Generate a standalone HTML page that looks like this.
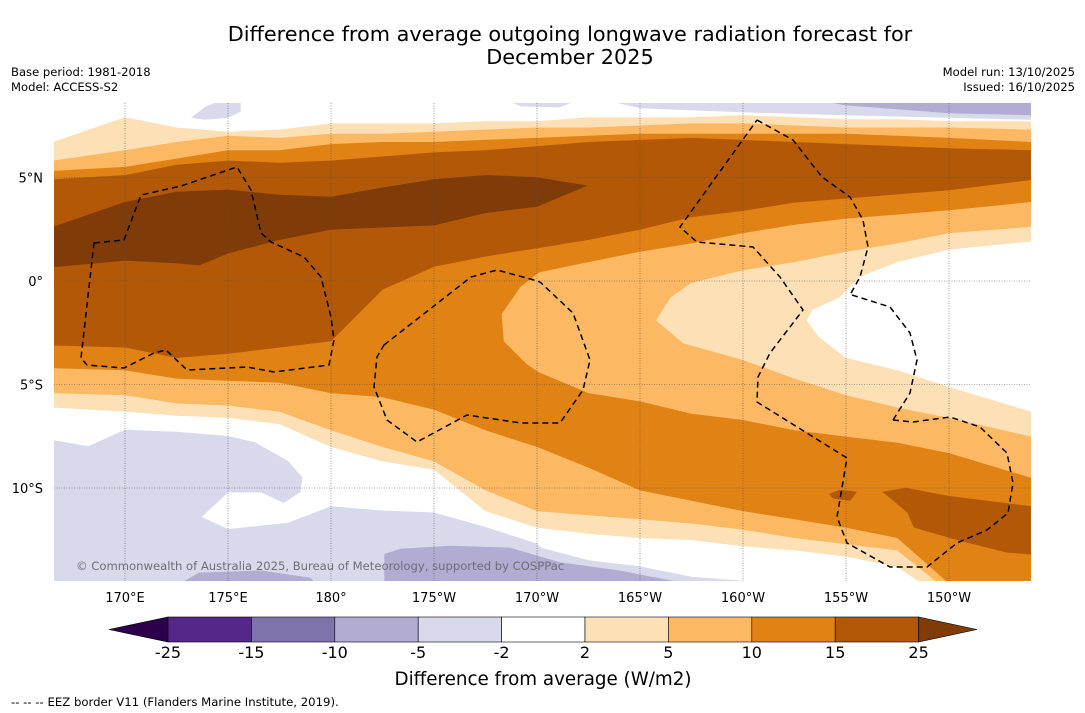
<!DOCTYPE html>
<html><head><meta charset="utf-8"><style>
html,body{margin:0;padding:0;background:#fff;}
svg{display:block;font-family:"DejaVu Sans","Liberation Sans",sans-serif;}
</style></head><body>
<svg id="chart" width="1085" height="713" viewBox="0 0 1085 713" xmlns="http://www.w3.org/2000/svg">
<rect x="0" y="0" width="1085" height="713" fill="#fff"/>
<text x="570" y="41" text-anchor="middle" font-size="20.8" fill="#000">Difference from average outgoing longwave radiation forecast for</text>
<text x="570" y="64" text-anchor="middle" font-size="20.8" fill="#000">December 2025</text>
<text x="11" y="76" font-size="11.6" fill="#000">Base period: 1981-2018</text>
<text x="11" y="91" font-size="11.6" fill="#000">Model: ACCESS-S2</text>
<text x="1075" y="76" font-size="11.6" text-anchor="end" fill="#000">Model run: 13/10/2025</text>
<text x="1075" y="91" font-size="11.6" text-anchor="end" fill="#000">Issued: 16/10/2025</text>
<defs><clipPath id="mapclip"><rect x="54" y="103" width="977" height="478"/></clipPath></defs>
<g id="map" clip-path="url(#mapclip)"></g>
<g id="grid"></g>
<g id="eez" fill="none" stroke="#000" stroke-width="1.5" stroke-dasharray="6,4">
<path d="M94,243 L124,240 L141,195 L181,186 L237,167 L251,190 L261,233 L271,242 L304,257 L321,277 L331,317 L334,340 L329,365 L274,372 L247,367 L187,370 L166,350 L154,353 L124,368 L87,365 L81,358 Z"/>
<path d="M384,345 L471,277 L497,270 L534,280 L540,282 L573,313 L590,360 L583,390 L560,423 L521,423 L467,415 L417,442 L387,420 L374,387 L377,357 Z"/>
<path d="M757,120 L793,140 L822,177 L850,197 L863,220 L868,247 L860,277 L850,295"/>
<path d="M852,295 L890,307 L910,333 L917,360 L910,393 L893,420"/>
<path d="M893,420 L913,422 L950,417 L980,427 L1007,453 L1013,483 L1008,513 L987,530 L957,543 L927,567 L890,567 L847,543 L837,517 L847,458 L757,402 L758,377 L770,353 L803,310 L780,277 L753,247 L697,242 L680,227 L757,120"/>
</g>
<text x="76" y="570" font-size="11.6" fill="#6e6e78">© Commonwealth of Australia 2025, Bureau of Meteorology, supported by COSPPac</text>
<g id="axes"></g>
<g id="cbar"></g>
<text x="543" y="685" text-anchor="middle" font-size="18.3" fill="#000">Difference from average (W/m2)</text>
<text x="11" y="706" font-size="11.7" fill="#000">--  --  -- EEZ border V11 (Flanders Marine Institute, 2019).</text>
</svg>
<script>
// ---- data ----
const lonGrid = [166.5,170,172.5,175,177.5,180,182.5,185,187.5,190,192.5,195,197.5,200,202.5,205,207.5,210,214];
const north2 = [6.7,7.9,7.4,7.2,7.3,7.6,7.6,7.6,7.7,7.7,7.9,7.9,7.9,8.0,7.9,7.8,7.8,7.7,7.7];
const south2 = [-6.1,-6.3,-6.5,-6.6,-6.9,-8.0,-8.7,-9.1,-11.1,-11.9,-12.2,-12.4,-12.5,-12.8,-13.0,-13.3,-13.8,-15.5,-16.5];
const north5 = [5.8,6.3,6.7,7.0,6.9,7.1,7.1,7.2,7.3,7.4,7.4,7.5,7.6,7.6,7.5,7.4,7.4,7.4,7.3];
const south5 = [-5.4,-5.5,-5.9,-6.0,-6.3,-7.2,-8.0,-8.7,-10.1,-11.1,-11.3,-11.5,-11.7,-12.0,-12.4,-12.7,-13.0,-15.0,-16.2];
const north10 = [5.3,5.5,5.9,6.3,6.3,6.6,6.7,6.7,6.8,6.9,7.0,7.1,7.1,7.1,7.1,7.1,7.0,6.9,6.7];
const south10 = [-4.2,-4.3,-4.7,-4.8,-4.9,-5.4,-5.6,-6.2,-7.2,-8.0,-9.0,-10.1,-10.6,-11.1,-11.5,-11.9,-12.4,-14.6,-16.0];
const north15 = [4.9,5.1,5.6,5.8,5.7,5.8,6.0,6.2,6.3,6.5,6.7,6.8,6.9,6.8,6.7,6.6,6.5,6.4,6.3];
const south15 = [-3.1,-3.2,-3.7,-3.5,-3.2,-2.9,-0.4,0.7,1.2,1.6,2.0,2.5,3.1,3.4,3.8,4.0,4.2,4.4,4.9];
const hole10Lon = [214,210,207.5,205,202.5,200,197.5,195,192.5,190.1,189.2,188.3,188.4,189.5,190.1,192.5,195,197.5,200,202.5,205,207.5,210,214];
const hole10Lat = [3.8,3.4,3.2,3.0,2.7,2.3,1.8,1.4,0.9,0.4,-0.3,-1.6,-2.9,-4.0,-4.4,-5.4,-5.8,-6.4,-6.7,-7.2,-7.5,-7.8,-8.3,-9.5];
const paleTongueLon = [214,210,207.5,205,202.5,200,197.5,196.5,195.8,197.1,200,202.5,205,207.5,210,214];
const paleTongueLat = [2.6,2.3,1.8,1.4,0.9,0.5,-0.1,-0.8,-1.9,-3.0,-3.8,-4.7,-5.5,-6.1,-6.6,-7.5];
const whiteTongueLon = [214,210,207.5,205.7,204.7,203.4,203.1,203.7,205,207.5,210,214];
const whiteTongueLat = [1.9,1.5,0.9,0.2,-0.8,-1.4,-1.9,-2.7,-3.7,-4.3,-5.1,-6.3];
const core25Lon = [166.5,170,172.5,175,177.5,180,182.5,185,187.5,190,192.4,190,187.5,185,182.5,180,177.5,175,173.6,172.5,170,166.5];
const core25Lat = [2.6,3.8,4.3,4.4,4.15,4.06,4.5,4.9,5.1,5.0,4.6,3.6,3.3,2.7,2.6,2.5,2.0,1.35,0.77,0.87,1.0,0.68];
const blob15aLon = [206.8,207.9,210,214,214,212.8,210.4,208.3,208.0,207.3];
const blob15aLat = [-10.2,-10.0,-10.4,-10.9,-13.2,-13.1,-12.5,-11.9,-11.2,-10.6];
const blob15bLon = [204.2,204.7,205.5,205.2,204.4];
const blob15bLat = [-10.3,-10.1,-10.2,-10.6,-10.5];
const lavSWLon = [166.5,168.2,170,172.5,175,176.3,177.9,178.6,178.5,177.7,176.6,175,173.7,175,177.9,180,182.5,185,187.5,190,190.2,192.5,195,197.5,200,200.8,202.8,205,205,166.5];
const lavSWLat = [-7.7,-8.0,-7.2,-7.3,-7.5,-7.8,-8.7,-9.5,-10.2,-10.7,-10.2,-10.2,-11.4,-12.0,-11.7,-10.9,-11.1,-11.2,-11.9,-12.7,-12.9,-13.5,-13.8,-14.3,-14.5,-14.9,-14.8,-15.2,-15.5,-15.5];
const lavBotLon = [182.6,182.6,183.4,185.8,188.7,191.1,194.0,196.6,197.0];
const lavBotLat = [-15.0,-13.2,-12.95,-12.8,-12.9,-13.6,-14.0,-14.5,-15.0];
const lavBotLLon = [172.2,173.6,176.6,179.0,179.5];
const lavBotLLat = [-14.9,-14.1,-14.0,-14.35,-14.9];
const lavTopLon = [173.25,173.9,174.6,175.6,175.6,175.0,173.9];
const lavTopLat = [7.9,8.4,8.7,8.6,8.2,7.9,7.8];
const lavTopMLon = [188.45,189.2,191.1,192.1];
const lavTopMLat = [8.8,8.45,8.4,8.8];
const lavTRLon = [193.1,195,200,205,210,214,214];
const lavTRLat = [8.8,8.36,8.16,8.02,7.9,7.8,8.8];
const lavTRDarkLon = [203.25,205,210,214,214];
const lavTRDarkLat = [8.8,8.5,8.12,8.02,8.8];
const lonTicks = [170,175,180,185,190,195,200,205,210];
const lonTickLabels = ["170°E","175°E","180°","175°W","170°W","165°W","160°W","155°W","150°W"];
const latTicks = [5,0,-5,-10];
const latTickLabels = ["5°N","0°","5°S","10°S"];
const cbarLevels = ["-25","-15","-10","-5","-2","2","5","10","15","25"];
const cbarColors = ["#542788","#8073ac","#b2abd2","#d8daeb","#ffffff","#fee0b6","#fdb863","#e08214","#b35806"];
const cbarUnder = "#2d004b";
const cbarOver = "#7f3b08";

// ---- scales ----
const NS = "http://www.w3.org/2000/svg";
function xOf(lon){ return 331 + (lon - 180) * 20.6; }
function yOf(lat){ return 281 - lat * 20.7; }
function ptsStr(lons, lats){ return lons.map((l,i)=> xOf(l).toFixed(1)+","+yOf(lats[i]).toFixed(1)).join(" "); }
const map = document.getElementById("map");
function poly(lons, lats, color, name){
  const p = document.createElementNS(NS, "polygon");
  p.setAttribute("points", ptsStr(lons, lats));
  p.setAttribute("fill", color);
  p.setAttribute("stroke", color);
  p.setAttribute("stroke-width", "0.6");
  
  
  map.appendChild(p);
}
function band(north, south, color, name){
  const lons = lonGrid.concat(lonGrid.slice().reverse());
  const lats = north.concat(south.slice().reverse());
  poly(lons, lats, color, name);
}
band(north2, south2, "#fee0b6", "contour-band-2-5");
poly(lavSWLon, lavSWLat, "#d8daeb", "contour-region-minus5-minus2-south");
poly(lavTopLon, lavTopLat, "#d8daeb", "contour-region-minus5-minus2-north-west");
poly(lavTopMLon, lavTopMLat, "#d8daeb", "contour-region-minus5-minus2-north-mid");
poly(lavTRLon, lavTRLat, "#d8daeb", "contour-region-minus5-minus2-north-east");
poly(lavTRDarkLon, lavTRDarkLat, "#b2abd2", "contour-region-minus10-minus5-north-east");
poly(lavBotLon, lavBotLat, "#b2abd2", "contour-region-minus10-minus5-south");
poly(lavBotLLon, lavBotLLat, "#b2abd2", "contour-region-minus10-minus5-south-west");
band(north5, south5, "#fdb863", "contour-band-5-10");
band(north10, south10, "#e08214", "contour-band-10-15");
poly(hole10Lon, hole10Lat, "#fdb863", "contour-region-5-10-east");
poly(paleTongueLon, paleTongueLat, "#fee0b6", "contour-tongue-2-5");
poly(whiteTongueLon, whiteTongueLat, "#ffffff", "contour-tongue-neutral");
band(north15, south15, "#b35806", "contour-band-15-25");
poly(core25Lon, core25Lat, "#7f3b08", "contour-core-above-25");
poly(blob15aLon, blob15aLat, "#b35806", "contour-blob-15-25-south-east");
poly(blob15bLon, blob15bLat, "#b35806", "contour-blob-15-25-small");

// ---- graticule & axes ----
const grid = document.getElementById("grid");
const axes = document.getElementById("axes");
lonTicks.forEach((lon, i) => {
  const l = document.createElementNS(NS, "line");
  l.setAttribute("x1", xOf(lon)); l.setAttribute("x2", xOf(lon));
  l.setAttribute("y1", 103); l.setAttribute("y2", 581);
  l.setAttribute("stroke", "#555"); l.setAttribute("stroke-width", "0.6"); l.setAttribute("stroke-dasharray", "1,1.5");
  
  
  grid.appendChild(l);
  const t = document.createElementNS(NS, "text");
  t.setAttribute("x", xOf(lon)); t.setAttribute("y", 602);
  t.setAttribute("text-anchor", "middle"); t.setAttribute("font-size", "13");
  t.textContent = lonTickLabels[i];
  
  
  axes.appendChild(t);
});
latTicks.forEach((lat, i) => {
  const l = document.createElementNS(NS, "line");
  l.setAttribute("x1", 54); l.setAttribute("x2", 1031);
  l.setAttribute("y1", yOf(lat)); l.setAttribute("y2", yOf(lat));
  l.setAttribute("stroke", "#555"); l.setAttribute("stroke-width", "0.6"); l.setAttribute("stroke-dasharray", "1,1.5");
  
  
  grid.appendChild(l);
  const t = document.createElementNS(NS, "text");
  t.setAttribute("x", 43); t.setAttribute("y", yOf(lat) + 5);
  t.setAttribute("text-anchor", "end"); t.setAttribute("font-size", "13");
  t.textContent = latTickLabels[i];
  
  
  axes.appendChild(t);
});

// ---- colorbar ----
const cbar = document.getElementById("cbar");
const cbX0 = 168, cbW = 83.4, cbY = 617, cbH = 25;
const under = document.createElementNS(NS, "polygon");
under.setAttribute("points", `${cbX0},${cbY} ${cbX0},${cbY+cbH} 109,${cbY+cbH/2}`);
under.setAttribute("fill", cbarUnder); under.setAttribute("stroke", "#000"); under.setAttribute("stroke-width", "0.6");


cbar.appendChild(under);
cbarColors.forEach((c, i) => {
  const r = document.createElementNS(NS, "rect");
  r.setAttribute("x", cbX0 + i*cbW); r.setAttribute("y", cbY);
  r.setAttribute("width", cbW); r.setAttribute("height", cbH);
  r.setAttribute("fill", c); r.setAttribute("stroke", "#000"); r.setAttribute("stroke-width", "0.6");
  
  
  cbar.appendChild(r);
});
const xEnd = cbX0 + cbarColors.length*cbW;
const over = document.createElementNS(NS, "polygon");
over.setAttribute("points", `${xEnd},${cbY} ${xEnd},${cbY+cbH} 977,${cbY+cbH/2}`);
over.setAttribute("fill", cbarOver); over.setAttribute("stroke", "#000"); over.setAttribute("stroke-width", "0.6");


cbar.appendChild(over);
cbarLevels.forEach((lab, i) => {
  const t = document.createElementNS(NS, "text");
  t.setAttribute("x", cbX0 + i*cbW); t.setAttribute("y", 658);
  t.setAttribute("text-anchor", "middle"); t.setAttribute("font-size", "16");
  t.textContent = lab;
  
  
  cbar.appendChild(t);
});
</script>
</body></html>
